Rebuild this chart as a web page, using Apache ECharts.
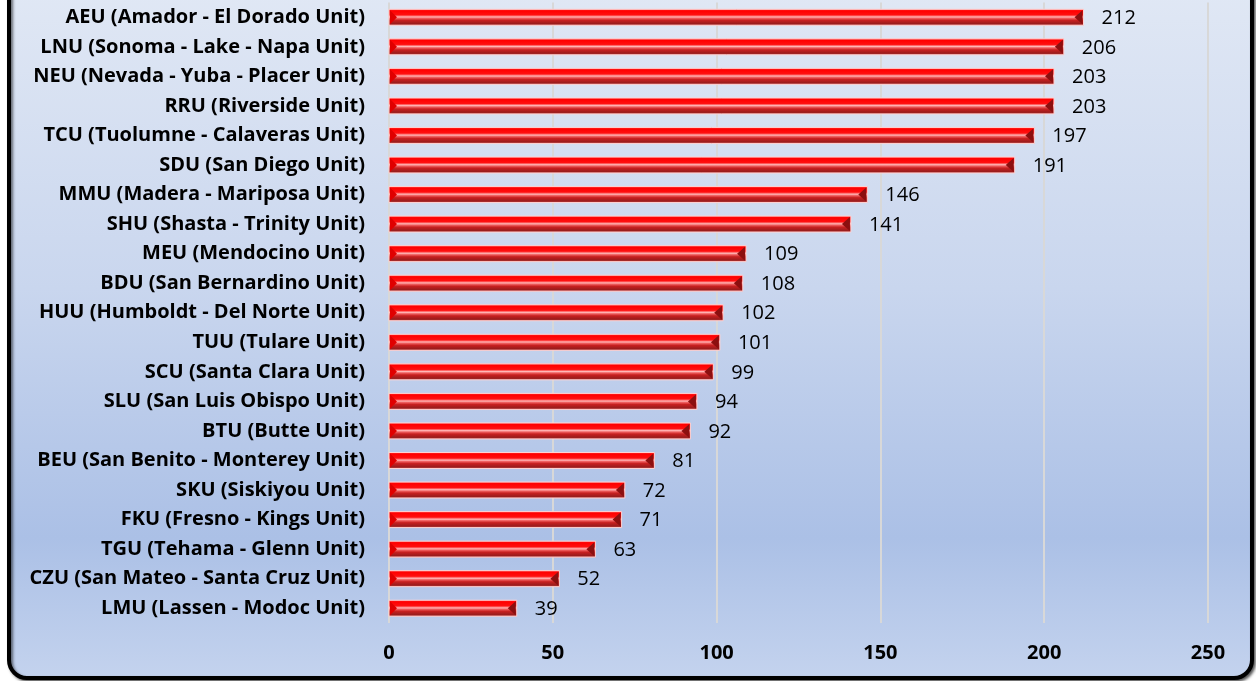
<!DOCTYPE html>
<html>
<head>
<meta charset="utf-8">
<script src="https://cdn.jsdelivr.net/npm/echarts@6/dist/echarts.min.js"></script>
<style>
  html, body { margin: 0; padding: 0; background: #ffffff; }
  #chart { width: 1256px; height: 681px; }
</style>
</head>
<body>
<div id="chart"></div>
<script>
// Fire units, listed top to bottom
const units = [
  'AEU (Amador - El Dorado Unit)',
  'LNU (Sonoma - Lake - Napa Unit)',
  'NEU (Nevada - Yuba - Placer Unit)',
  'RRU (Riverside Unit)',
  'TCU (Tuolumne - Calaveras Unit)',
  'SDU (San Diego Unit)',
  'MMU (Madera - Mariposa Unit)',
  'SHU (Shasta - Trinity Unit)',
  'MEU (Mendocino Unit)',
  'BDU (San Bernardino Unit)',
  'HUU (Humboldt - Del Norte Unit)',
  'TUU (Tulare Unit)',
  'SCU (Santa Clara Unit)',
  'SLU (San Luis Obispo Unit)',
  'BTU (Butte Unit)',
  'BEU (San Benito - Monterey Unit)',
  'SKU (Siskiyou Unit)',
  'FKU (Fresno - Kings Unit)',
  'TGU (Tehama - Glenn Unit)',
  'CZU (San Mateo - Santa Cruz Unit)',
  'LMU (Lassen - Modoc Unit)'
];
const counts = [212, 206, 203, 203, 197, 191, 146, 141, 109, 108, 102, 101, 99, 94, 92, 81, 72, 71, 63, 52, 39];

// Value axis ticks
const axisMin = 0;
const axisMax = 250;
const axisStep = 50;

const chart = echarts.init(document.getElementById('chart'));

// Beveled red bar: gradient body, pointed caps at both ends, value text to the right
function renderBar(params, api) {
  const idx = api.value(0);
  const val = api.value(1);
  const p0 = api.coord([0, idx]);
  const p1 = api.coord([val, idx]);
  const h = 16;
  const x0 = p0[0], x1 = p1[0], y = p0[1];
  const top = y - h / 2, bot = y + h / 2;
  const bodyFill = new echarts.graphic.LinearGradient(0, 0, 0, 1, [
    { offset: 0, color: '#ff5050' },
    { offset: 0.12, color: '#ff0000' },
    { offset: 0.36, color: '#ff1010' },
    { offset: 0.48, color: '#ffb8b8' },
    { offset: 0.56, color: '#f06060' },
    { offset: 0.68, color: '#c82020' },
    { offset: 0.88, color: '#9a1c1c' },
    { offset: 1, color: '#d06060' }
  ]);
  return {
    type: 'group',
    children: [
      {
        type: 'rect',
        shape: { x: x0, y: top, width: x1 - x0, height: h },
        style: { fill: bodyFill, stroke: '#ffd2d2', lineWidth: 1 }
      },
      {
        type: 'polygon',
        shape: { points: [[x0 + 1, top + 1], [x0 + 8, y], [x0 + 1, bot - 1]] },
        style: { fill: '#e00000' }
      },
      {
        type: 'polygon',
        shape: { points: [[x1 - 1, top + 1], [x1 - 9, y], [x1 - 1, bot - 1]] },
        style: { fill: '#8c0f0f' }
      },
      {
        type: 'text',
        style: {
          text: String(val),
          x: x1 + 18,
          y: y + 1,
          verticalAlign: 'middle',
          align: 'left',
          fill: '#000000',
          font: '20px "Open Sans"'
        }
      }
    ]
  };
}

chart.setOption({
  backgroundColor: '#ffffff',
  animation: false,
  graphic: [
    {
      type: 'rect',
      z: -10,
      silent: true,
      shape: { x: 9, y: -30, width: 1243, height: 708, r: 18 },
      style: {
        fill: new echarts.graphic.LinearGradient(0, 0, 0, 1, [
          { offset: 0, color: '#e2e9f5' },
          { offset: 0.45, color: '#c9d6ee' },
          { offset: 0.8, color: '#abc0e6' },
          { offset: 1, color: '#c4d3ee' }
        ]),
        stroke: '#000000',
        lineWidth: 4,
        shadowColor: 'rgba(0,0,0,0.55)',
        shadowBlur: 3,
        shadowOffsetX: 2,
        shadowOffsetY: 2
      }
    }
  ],
  grid: { left: 389, right: 48, top: 2.5, bottom: 58, containLabel: false },
  xAxis: {
    type: 'value',
    min: axisMin,
    max: axisMax,
    interval: axisStep,
    axisLine: { show: false },
    axisTick: { show: false },
    splitLine: { show: true, lineStyle: { color: '#d8d8d8', width: 2 } },
    axisLabel: {
      margin: 20,
      color: '#000000',
      fontFamily: 'Open Sans',
      fontWeight: 'bold',
      fontSize: 20
    }
  },
  yAxis: {
    type: 'category',
    data: units,
    inverse: true,
    axisLine: { show: false },
    axisTick: { show: false },
    axisLabel: {
      margin: 24,
      color: '#000000',
      fontFamily: 'Open Sans',
      fontWeight: 'bold',
      fontSize: 20
    }
  },
  series: [
    {
      type: 'custom',
      renderItem: renderBar,
      encode: { x: 1, y: 0 },
      data: counts.map((v, i) => [i, v])
    }
  ]
});
</script>
</body>
</html>
